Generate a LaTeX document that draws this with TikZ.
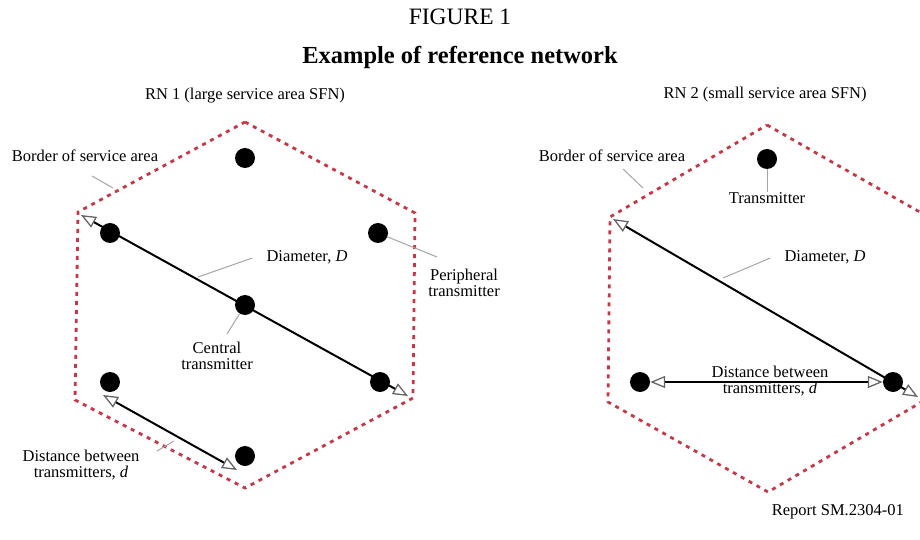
\documentclass[tikz,border=0pt]{standalone}
\usepackage{fontspec}
\setmainfont{Liberation Serif}
\usepackage{tikz}
\usetikzlibrary{arrows.meta,positioning,calc}

\definecolor{hexred}{RGB}{200,55,70}
\tikzset{
  tx/.style={circle,fill=black,inner sep=0pt,minimum size=20pt},
  border/.style={draw=hexred,line width=2.8pt,dash pattern=on 4pt off 5pt},
  dim/.style={line width=2pt,
    {Triangle[length=15pt,width=12pt,fill=white,color=gray!80!black,line width=1.3pt]}-{Triangle[length=15pt,width=12pt,fill=white,color=gray!80!black,line width=1.3pt]}},
  lead/.style={draw=gray!70,line width=1pt},
  lbl/.style={font=\fontsize{16.5}{16.5}\selectfont,align=center,inner sep=0pt}
}

\begin{document}
\begin{tikzpicture}[x=1pt,y=-1pt]
        \useasboundingbox (0,0) rectangle (920,540);
        \clip (0,0) rectangle (920,540);

        % Titel
        \node[font=\fontsize{23.5}{25}\selectfont] (fig) at (460,17) {FIGURE 1};
        \node[font=\bfseries\fontsize{24.5}{26}\selectfont] (ttl) at (460,57) {Example of reference network};

        % RN 1: Sechseck
        \coordinate (aT) at (245,122);
        \coordinate (aUR) at (415,213);
        \coordinate (aLR) at (413,398);
        \coordinate (aB) at (245,488);
        \coordinate (aLL) at (75,400);
        \coordinate (aUL) at (78,212);
        \draw[border] (aT) -- (aUR) -- (aLR) -- (aB) -- (aLL) -- (aUL) -- cycle;
        \node[lbl] (rn1) at (245,96) {RN 1 (large service area SFN)};

        % RN 1: Durchmesser
        \coordinate (dA1) at (81,215);
        \coordinate (dB1) at (408,396);
        \draw[dim] (dA1) -- (dB1);

        % RN 1: Sender
        \node[tx] (t1) at (245,158) {};
        \node[tx] (tUL) at (110,233) {};
        \node[tx] (tUR) at (378,233) {};
        \node[tx] (tC) at (245,305) {};
        \node[tx] (tLL) at (110,382) {};
        \node[tx] (tLR) at (380,382) {};
        \node[tx] (tB) at (245,456) {};

        % RN 1: Abstand
        \coordinate (eA1) at (103,395);
        \coordinate (eB1) at (237,470);
        \draw[dim] (eA1) -- (eB1);

        % RN 1: Beschriftung
        \node[lbl] (bord1) at (85,156) {Border of service area};
        \coordinate (bl1) at (113,188);
        \draw[lead] (92,176) -- (bl1);
        \node[lbl] (diam1) at (307,257) {Diameter, \textit{D}};
        \coordinate (dl1) at (198,277);
        \draw[lead] (diam1.west) ++(-14,1) -- (dl1);
        \node[lbl] (peri) at (464,283) {Peripheral\\transmitter};
        \coordinate (pl) at (437,257);
        \draw[lead] (tUR) -- (pl);
        \node[lbl] (cent) at (217,356) {Central\\transmitter};
        \coordinate (cl) at (227,334);
        \draw[lead] (tC) -- (cl);
        \node[lbl] (dist1) at (81,465) {Distance between\\transmitters, \textit{d}};
        \coordinate (sl1) at (174,441);
        \draw[lead] (157,451) -- (sl1);

        % RN 2: Sechseck
        \coordinate (bT) at (767,125);
        \coordinate (bUR) at (925,215);
        \coordinate (bLR) at (925,400);
        \coordinate (bB) at (768,492);
        \coordinate (bLL) at (608,402);
        \coordinate (bUL) at (610,217);
        \draw[border] (bT) -- (bUR) -- (bLR) -- (bB) -- (bLL) -- (bUL) -- cycle;
        \node[lbl] (rn2) at (765,95) {RN 2 (small service area SFN)};

        % RN 2: Durchmesser
        \coordinate (dA2) at (613,219);
        \coordinate (dB2) at (918,397);
        \draw[dim] (dA2) -- (dB2);

        % RN 2: Sender
        \node[tx] (s1) at (767,159) {};
        \node[tx] (sL) at (640,382) {};
        \node[tx] (sR) at (893,382) {};

        % RN 2: Abstand
        \draw[dim] (sL) -- (sR);

        % RN 2: Beschriftung
        \node[lbl] (bord2) at (612,156) {Border of service area};
        \coordinate (bl2) at (643,188);
        \draw[lead] (623,169) -- (bl2);
        \node[lbl] (txl) at (767,198) {Transmitter};
        \draw[lead] (s1) -- (txl.north);
        \node[lbl] (diam2) at (825,257) {Diameter, \textit{D}};
        \coordinate (dl2) at (723,278);
        \draw[lead] (diam2.west) ++(-14,1) -- (dl2);
        \node[lbl] (dist2) at (770,381) {Distance between\\transmitters, \textit{d}};

        % Quelle
        \node[lbl,anchor=east] (rep) at (904,512) {Report SM.2304-01};
      \end{tikzpicture}
\end{document}
